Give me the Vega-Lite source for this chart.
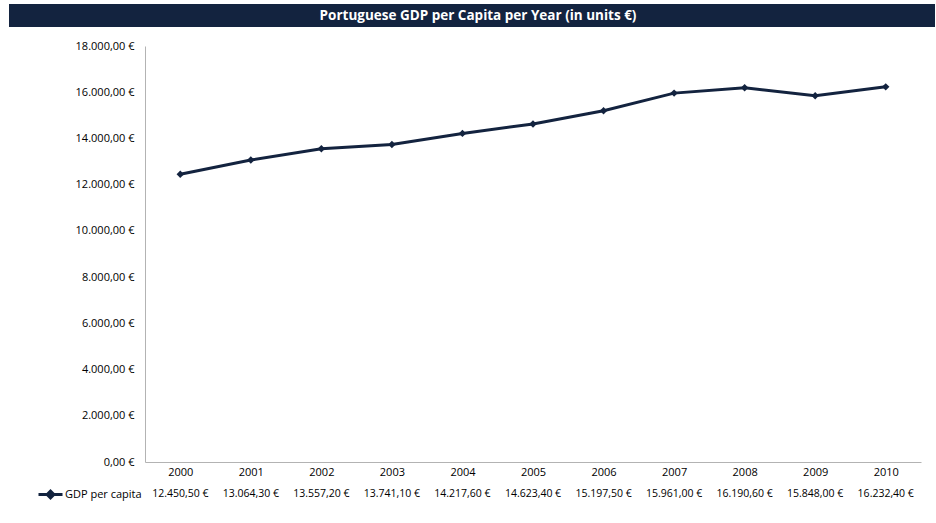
{
  "$schema": "https://vega.github.io/schema/vega-lite/v6.json",
  "background": "white",
  "padding": {"left": 9, "top": 4, "right": 0, "bottom": 0},
  "config": {
    "locale": {
      "number": {"decimal": ",", "thousands": ".", "grouping": [3], "currency": ["", " €"]}
    },
    "font": "Open Sans",
    "view": {"stroke": null},
    "axis": {"labelFont": "Open Sans", "labelFontSize": 11, "labelColor": "#000000", "ticks": false, "grid": false, "domainColor": "#b3b3b3", "domainWidth": 1, "title": null}
  },
  "datasets": {
    "gdp": [
      {"year": "2000", "gdp": 12450.5},
      {"year": "2001", "gdp": 13064.3},
      {"year": "2002", "gdp": 13557.2},
      {"year": "2003", "gdp": 13741.1},
      {"year": "2004", "gdp": 14217.6},
      {"year": "2005", "gdp": 14623.4},
      {"year": "2006", "gdp": 15197.5},
      {"year": "2007", "gdp": 15961.0},
      {"year": "2008", "gdp": 16190.6},
      {"year": "2009", "gdp": 15848.0},
      {"year": "2010", "gdp": 16232.4}
    ]
  },
  "spacing": 13,
  "vconcat": [
    {
      "width": 926,
      "height": 23,
      "view": {"fill": "#13233f", "stroke": null},
      "data": {"values": [{"caption": "Portuguese GDP per Capita per Year (in units €)"}]},
      "mark": {"type": "text", "color": "#ffffff", "font": "Open Sans", "fontWeight": "bold", "fontSize": 13.5, "baseline": "middle", "align": "center", "dx": 6},
      "encoding": {"text": {"field": "caption"}}
    },
    {
      "width": 926,
      "height": 416,
      "data": {"name": "gdp"},
      "encoding": {
        "x": {
          "field": "year",
          "type": "ordinal",
          "scale": {"type": "point", "padding": 0.5, "range": [136, 912]},
          "axis": {"labelAngle": 0, "labelPadding": 4, "labelBaseline": "top"}
        }
      },
      "layer": [
        {
          "mark": {
            "type": "line",
            "strokeWidth": 3,
            "point": {"shape": "diamond", "size": 55, "filled": true}
          },
          "encoding": {
            "y": {
              "field": "gdp",
              "type": "quantitative",
              "scale": {"domain": [0, 18000], "nice": false},
              "axis": {
                "values": [0, 2000, 4000, 6000, 8000, 10000, 12000, 14000, 16000, 18000],
                "format": "$,.2f",
                "labelPadding": 11,
                "offset": -136
              }
            },
            "color": {
              "datum": "GDP per capita",
              "scale": {"range": ["#13233f"]},
              "legend": {
                "title": null,
                "orient": "none",
                "legendX": 28,
                "legendY": 477,
                "symbolType": "M-1,0H1M-0.28,0L0,-0.28L0.28,0L0,0.28Z",
                "symbolSize": 576,
                "symbolStrokeWidth": 3,
                "labelFont": "Open Sans",
                "labelFontSize": 11,
                "labelColor": "#000000",
                "labelOffset": 1,
                "encode": {
                  "symbols": {"update": {"fill": {"value": "#13233f"}, "stroke": {"value": "#13233f"}}}
                }
              }
            }
          }
        },
        {
          "mark": {"type": "text", "font": "Open Sans", "fontSize": 10.5, "color": "#000000", "baseline": "middle", "align": "center", "dy": 32},
          "encoding": {
            "y": {"value": "height"},
            "text": {"field": "gdp", "type": "quantitative", "format": "$,.2f"}
          }
        }
      ]
    }
  ]
}
